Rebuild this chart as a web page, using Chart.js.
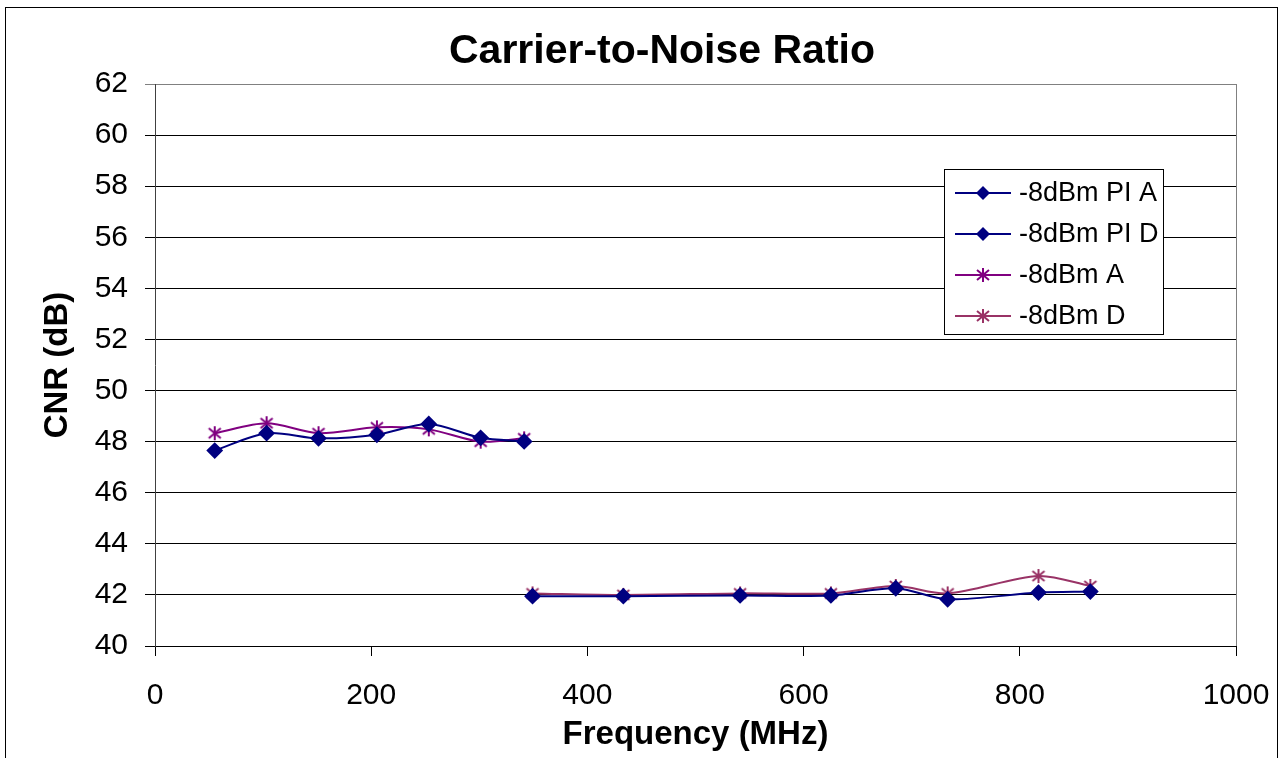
<!DOCTYPE html>
<html>
<head>
<meta charset="utf-8">
<script src="https://cdn.jsdelivr.net/npm/chart.js@4.4.0/dist/chart.umd.min.js"></script>
<style>
html, body { margin: 0; padding: 0; background: #fff; }
canvas { display: block; }
</style>
</head>
<body>
<canvas id="cnrChart" width="1282" height="758"></canvas>
<script>
// Frequencies (MHz) of the two bands
const lowFreq = [55.25, 103.25, 151.25, 205.25, 253.25, 301.25, 341.5];
const highFreq = [349.25, 433.25, 541.25, 625.25, 685.25, 733.25, 817.25, 865.25];

// CNR values (dB)
const piA = [47.65, 48.33, 48.13, 48.27, 48.69, 48.15, 48.01];
const piD = [41.95, 41.95, 41.98, 41.98, 42.26, 41.83, 42.09, 42.13];
const dbmA = [48.33, 48.72, 48.33, 48.56, 48.48, 48.0, 48.13];
const dbmD = [42.06, 42.0, 42.06, 42.06, 42.35, 42.06, 42.74, 42.35];

const seriesLabels = ['-8dBm PI A', '-8dBm PI D', '-8dBm A', '-8dBm D'];
const seriesColors = ['#000080', '#000080', '#800080', '#993366'];

const FONT = "'Liberation Sans', Arial, sans-serif";

function toPoints(xs, ys) {
    return xs.map((x, i) => ({ x: x, y: ys[i] }));
}

// Excel-style asterisk marker (vertical bar + X)
function makeStar(color) {
    const c = document.createElement('canvas');
    c.width = 16;
    c.height = 16;
    const g = c.getContext('2d');
    g.strokeStyle = color;
    g.lineWidth = 2;
    g.beginPath();
    g.moveTo(8, 1); g.lineTo(8, 15);
    g.moveTo(2, 3); g.lineTo(14, 13);
    g.moveTo(2, 13); g.lineTo(14, 3);
    g.stroke();
    return c;
}

const starA = makeStar(seriesColors[2]);
const starD = makeStar(seriesColors[3]);

function drawDiamond(ctx, x, y, r, color) {
    ctx.beginPath();
    ctx.moveTo(x, y - r);
    ctx.lineTo(x + r, y);
    ctx.lineTo(x, y + r);
    ctx.lineTo(x - r, y);
    ctx.closePath();
    ctx.fillStyle = color;
    ctx.fill();
}

const decorPlugin = {
    id: 'decor',
    beforeDatasetsDraw(chart) {
        const { ctx, chartArea } = chart;
        ctx.save();
        // plot area right border (grey)
        ctx.strokeStyle = '#808080';
        ctx.lineWidth = 1;
        ctx.beginPath();
        ctx.moveTo(Math.round(chartArea.right) + 0.5, chartArea.top);
        ctx.lineTo(Math.round(chartArea.right) + 0.5, chartArea.bottom);
        ctx.stroke();
        ctx.restore();
    },
    afterDraw(chart) {
        const { ctx } = chart;
        ctx.save();
        // outer chart border
        ctx.strokeStyle = '#000';
        ctx.lineWidth = 1;
        ctx.strokeRect(5.5, 7.5, 1272, 800);

        // title
        ctx.fillStyle = '#000';
        ctx.font = 'bold 41px ' + FONT;
        ctx.textAlign = 'center';
        ctx.textBaseline = 'middle';
        ctx.fillText('Carrier-to-Noise Ratio', 662, 52);

        // legend
        ctx.fillStyle = '#fff';
        ctx.fillRect(944.5, 169.5, 219, 165);
        ctx.strokeStyle = '#000';
        ctx.strokeRect(944.5, 169.5, 219, 165);
        ctx.font = '27px ' + FONT;
        ctx.textAlign = 'left';
        seriesLabels.forEach((label, i) => {
            const y = 193 + i * 41;
            ctx.strokeStyle = seriesColors[i];
            ctx.lineWidth = 2;
            ctx.beginPath();
            ctx.moveTo(955, y);
            ctx.lineTo(1011, y);
            ctx.stroke();
            if (i < 2) {
                drawDiamond(ctx, 983, y, 7, seriesColors[i]);
            } else {
                ctx.drawImage(i === 2 ? starA : starD, 975, y - 8);
            }
            ctx.fillStyle = '#000';
            ctx.fillText(label, 1019, y + 1);
        });
        ctx.restore();
    }
};

new Chart(document.getElementById('cnrChart'), {
    type: 'line',
    data: {
        datasets: [
            {
                label: seriesLabels[0],
                data: toPoints(lowFreq, piA),
                borderColor: seriesColors[0],
                backgroundColor: seriesColors[0],
                pointStyle: 'rectRot',
                pointRadius: 7,
                borderWidth: 2,
                tension: 0.3
            },
            {
                label: seriesLabels[1],
                data: toPoints(highFreq, piD),
                borderColor: seriesColors[1],
                backgroundColor: seriesColors[1],
                pointStyle: 'rectRot',
                pointRadius: 7,
                borderWidth: 2,
                tension: 0.3
            },
            {
                label: seriesLabels[2],
                data: toPoints(lowFreq, dbmA),
                borderColor: seriesColors[2],
                backgroundColor: seriesColors[2],
                pointStyle: starA,
                borderWidth: 2,
                tension: 0.3
            },
            {
                label: seriesLabels[3],
                data: toPoints(highFreq, dbmD),
                borderColor: seriesColors[3],
                backgroundColor: seriesColors[3],
                pointStyle: starD,
                borderWidth: 2,
                tension: 0.3
            }
        ]
    },
    options: {
        responsive: false,
        animation: false,
        devicePixelRatio: 1,
        layout: {
            padding: { top: 84, right: 46, left: 0, bottom: 0 }
        },
        plugins: {
            legend: { display: false },
            title: { display: false },
            tooltip: { enabled: false }
        },
        scales: {
            x: {
                type: 'linear',
                min: 0,
                max: 1000,
                afterFit(scale) {
                    scale.height = 112;
                    scale.paddingLeft = 0;
                    scale.paddingRight = 0;
                },
                ticks: {
                    stepSize: 200,
                    color: '#000',
                    padding: 22,
                    maxRotation: 0,
                    callback: (v) => String(v),
                    font: { family: FONT, size: 30 }
                },
                grid: {
                    drawOnChartArea: false,
                    drawTicks: true,
                    tickLength: 10,
                    color: '#000'
                },
                border: { color: '#000', width: 1 },
                title: {
                    display: true,
                    text: 'Frequency (MHz)',
                    color: '#000',
                    padding: { top: 0, bottom: 3 },
                    font: { family: FONT, size: 33, weight: 'bold' }
                }
            },
            y: {
                min: 40,
                max: 62,
                afterFit(scale) { scale.width = 155; },
                ticks: {
                    stepSize: 2,
                    color: '#000',
                    padding: 17,
                    font: { family: FONT, size: 30 }
                },
                grid: {
                    tickLength: 10,
                    color: (c) => (c.tick && c.tick.value === 62 ? '#808080' : '#000')
                },
                border: { color: '#404040', width: 1 },
                title: {
                    display: true,
                    text: 'CNR (dB)',
                    color: '#000',
                    padding: { top: 38, bottom: 0 },
                    font: { family: FONT, size: 33, weight: 'bold' }
                }
            }
        }
    },
    plugins: [decorPlugin]
});
</script>
</body>
</html>
